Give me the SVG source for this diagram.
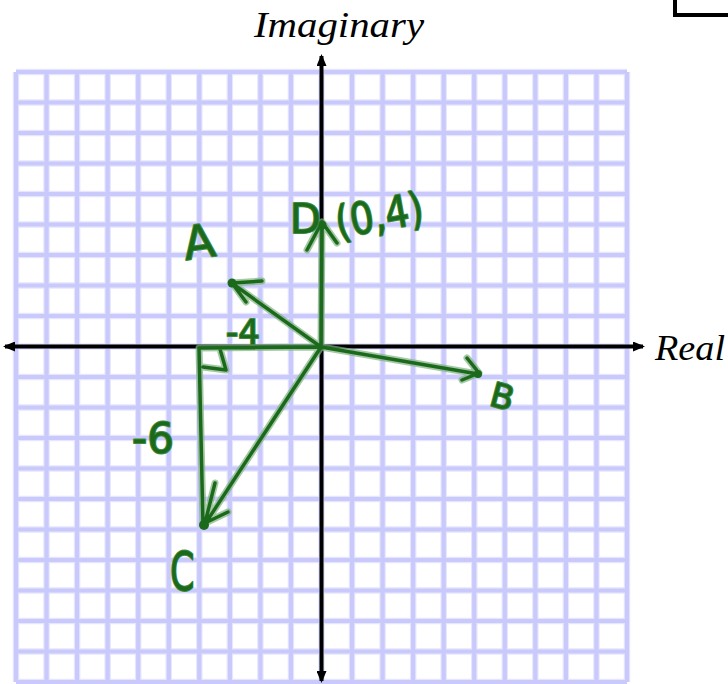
<svg xmlns="http://www.w3.org/2000/svg" width="728" height="684" viewBox="0 0 728 684">
<style>
.grid{fill:none;stroke:#c9c9fc;stroke-width:4.2}
.gridhalo{fill:none;stroke:#e6e6ff;stroke-width:6.5}
.axis{fill:none;stroke:#000;stroke-width:4}
.inkhalo{fill:none;stroke:#7fb07f;stroke-width:7;stroke-linecap:round;stroke-linejoin:round;opacity:0.7}
.ink{fill:none;stroke:#1b6a1b;stroke-width:3.5;stroke-linecap:round;stroke-linejoin:round}
.lbl{font-family:"Liberation Serif","Times New Roman",serif;font-style:italic;font-size:35px;fill:#000}
.hand{font-family:"DejaVu Sans","Liberation Sans",sans-serif;fill:#1b6a1b;stroke:#3f8a3f;stroke-width:2;paint-order:stroke;stroke-linejoin:round}
</style>
<defs>
<marker id="ah" markerWidth="12" markerHeight="10" refX="10" refY="5" orient="auto" markerUnits="userSpaceOnUse">
<path d="M0,0 L12,5 L0,10 Z" fill="#000"/>
</marker>
</defs>
<rect width="728" height="684" fill="#fff"/>
<rect x="675" y="-20" width="80" height="35" fill="none" stroke="#000" stroke-width="4"/>
<g id="grid">
<path class="gridhalo" d="M16,72V682M46.55,72V682M77.1,72V682M107.65,72V682M138.2,72V682M168.75,72V682M199.3,72V682M229.85,72V682M260.4,72V682M290.95,72V682M321.5,72V682M352.05,72V682M382.6,72V682M413.15,72V682M443.7,72V682M474.25,72V682M504.8,72V682M535.35,72V682M565.9,72V682M596.45,72V682M627,72V682M16,72H627M16,102.5H627M16,133H627M16,163.5H627M16,194H627M16,224.5H627M16,255H627M16,285.5H627M16,316H627M16,346.5H627M16,377H627M16,407.5H627M16,438H627M16,468.5H627M16,499H627M16,529.5H627M16,560H627M16,590.5H627M16,621H627M16,651.5H627M16,682H627"/>
<path class="grid" d="M16,72V682M46.55,72V682M77.1,72V682M107.65,72V682M138.2,72V682M168.75,72V682M199.3,72V682M229.85,72V682M260.4,72V682M290.95,72V682M321.5,72V682M352.05,72V682M382.6,72V682M413.15,72V682M443.7,72V682M474.25,72V682M504.8,72V682M535.35,72V682M565.9,72V682M596.45,72V682M627,72V682M16,72H627M16,102.5H627M16,133H627M16,163.5H627M16,194H627M16,224.5H627M16,255H627M16,285.5H627M16,316H627M16,346.5H627M16,377H627M16,407.5H627M16,438H627M16,468.5H627M16,499H627M16,529.5H627M16,560H627M16,590.5H627M16,621H627M16,651.5H627M16,682H627"/>
</g>
<g id="axes">
<line class="axis" x1="321.5" y1="346.5" x2="321.5" y2="56" marker-end="url(#ah)"/>
<line class="axis" x1="321.5" y1="346.5" x2="321.5" y2="681" marker-end="url(#ah)"/>
<line class="axis" x1="321.5" y1="346.5" x2="5" y2="346.5" marker-end="url(#ah)"/>
<line class="axis" x1="321.5" y1="346.5" x2="643" y2="346.5" marker-end="url(#ah)"/>
</g>
<g id="axis-labels">
<text class="lbl" x="254" y="37" textLength="170" lengthAdjust="spacingAndGlyphs">Imaginary</text>
<text class="lbl" x="655" y="360" textLength="70" lengthAdjust="spacingAndGlyphs">Real</text>
</g>
<g id="connectors">
<path class="inkhalo" d="M321,347L233,284M262,281L232,283L246,302M321,347L322,225M307,250L322,222L337,243M321,347L478,374M467,358L479,373L462,380M321,347L199,348M220,349L226,370L203,367M199,348L203,525M321,347L205,524M215,483L205,523L228,512"/>
<path class="ink" d="M321,347L233,284M262,281L232,283L246,302M321,347L322,225M307,250L322,222L337,243M321,347L478,374M467,358L479,373L462,380M321,347L199,348M220,349L226,370L203,367M199,348L203,525M321,347L205,524M215,483L205,523L228,512"/>
<circle cx="232" cy="283" r="4.5" fill="#1b6a1b"/>
<circle cx="322" cy="225" r="4.5" fill="#1b6a1b"/>
<circle cx="478" cy="374" r="4" fill="#1b6a1b"/>
<circle cx="204" cy="525" r="5" fill="#1b6a1b"/>
</g>
<g id="node-A"><text class="hand" x="183" y="258" font-size="46" transform="rotate(-8 198 240)">A</text></g>
<g id="node-D"><text class="hand" x="290" y="233" font-size="40">D</text></g>
<g id="node-D-coord"><text class="hand" x="334" y="232" font-size="44" transform="rotate(-10 370 210) translate(334 0) scale(0.85 1) translate(-334 0)">(0,4)</text></g>
<g id="node-B"><text class="hand" x="491" y="409" font-size="34" transform="rotate(15 505 396)">B</text></g>
<g id="node-C"><text class="hand" x="170" y="590" font-size="54" transform="translate(170 0) scale(0.65 1) translate(-170 0)">C</text></g>
<g id="label-m4"><text class="hand" x="226" y="344" font-size="34">-4</text></g>
<g id="label-m6"><text class="hand" x="132" y="453" font-size="42">-6</text></g>
</svg>
